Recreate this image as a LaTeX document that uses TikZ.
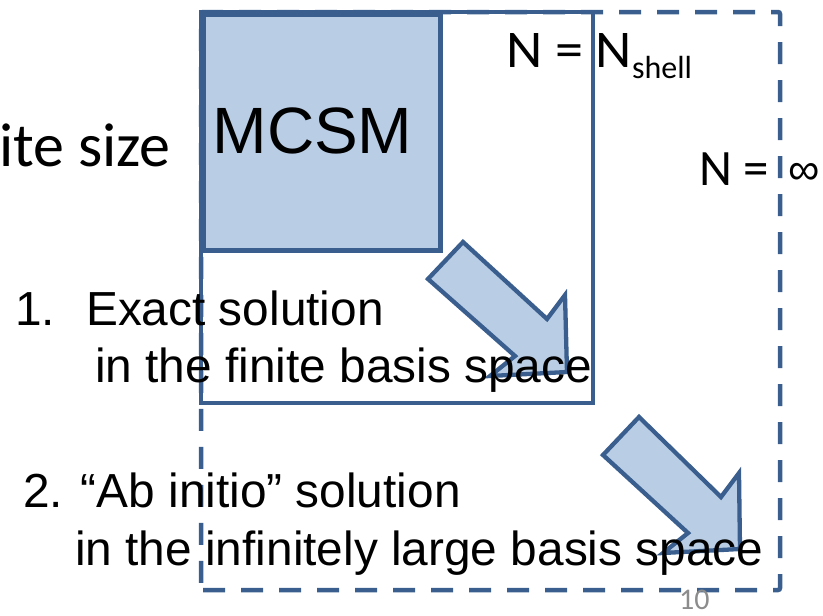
\documentclass[tikz,border=0pt]{standalone}
\usepackage{fontspec}
\setmainfont{Liberation Sans}
\newfontfamily\calfont{Carlito}
\definecolor{edgeblue}{HTML}{3A5F8E}
\definecolor{fillblue}{HTML}{B9CDE5}
\definecolor{pagegray}{HTML}{8C8C8C}
\tikzset{
  boxline/.style={draw=edgeblue, line width=4.5pt},
  dashline/.style={draw=edgeblue, line width=4.5pt, dash pattern=on 22pt off 16pt, rounded corners=2pt},
  blockarrow/.style={draw=edgeblue, fill=fillblue, line width=4.3pt, line join=miter},
  armtext/.style={inner sep=0pt, anchor=base west, font=\fontsize{47.8}{56}\selectfont},
}
\begin{document}
\begin{tikzpicture}[x=1pt,y=-1pt]
\useasboundingbox (0,0) rectangle (823,616);
\clip (0,0) rectangle (823,616);
% dashed outer (infinite) space
\draw[dashline] (201,590) coordinate (dA) -- (780,590) coordinate (dB) -- (780,12) coordinate (dC) -- (201,12) coordinate (dD) -- cycle;
% solid finite space
\draw[boxline] (201,12) coordinate (sA) rectangle (593,403) coordinate (sB);
% MCSM box
\node[boxline, fill=fillblue, minimum width=237pt, minimum height=236pt, inner sep=0pt, anchor=north west] (mcsm) at (201,12) {};
\node[inner sep=0pt, anchor=base, font=\fontsize{65.5}{72}\selectfont] (mcsmlabel) at (312.5,153) {MCSM};
% arrows
\draw[blockarrow] (463,242) -- (547,319) -- (565,295) -- (567,372) -- (490,376) -- (515,356) -- (428,279) -- cycle;
\draw[blockarrow] (639,417) -- (721,497) -- (739,473) -- (740,549) -- (663,553) -- (688,533) -- (603,455) -- cycle;
% texts
\node[inner sep=0pt, anchor=base west, font=\calfont\fontsize{62}{70}\selectfont] (size) at (-1,166) {ite size};
\node[inner sep=0pt, anchor=base west, font=\calfont\fontsize{53}{60}\selectfont] (nshell) at (506,67)
  {\scalebox{1.06}[1]{N = N}\raisebox{-11pt}{\fontsize{32}{36}\selectfont shell}};
\node[inner sep=0pt, anchor=base west, font=\calfont\fontsize{51}{60}\selectfont] (ninf) at (699,185) {N =};
\node[inner sep=0pt, anchor=base west, font=\fontsize{44}{50}\selectfont] (infty) at (788,184) {∞};
\node[armtext] (one) at (15,325) {1.};
\node[armtext] (exact) at (86,325) {Exact solution};
\node[armtext] (finite) at (95,382) {in the finite basis space};
\node[armtext] (two) at (23,507) {2. “Ab initio” solution};
\node[armtext] (infinite) at (75,565) {in the infinitely large basis space};
\node[inner sep=0pt, anchor=base west, text=pagegray, font=\calfont\fontsize{30}{34}\selectfont] (page) at (679,609) {10};
\end{tikzpicture}
\end{document}
